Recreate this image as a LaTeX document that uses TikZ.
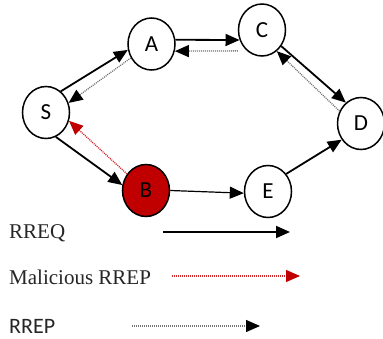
\documentclass[tikz,border=0pt]{standalone}
\usepackage{fontspec}
\setmainfont{Liberation Serif}
\newfontfamily\carlitofont{Carlito}
\usetikzlibrary{arrows.meta,shapes.geometric}
\definecolor{bred}{RGB}{192,0,0}
\definecolor{dotgray}{RGB}{115,115,115}
\definecolor{dotred}{RGB}{205,40,40}
\tikzset{
  peer/.style={draw=black, line width=1.5pt, ellipse, minimum width=47pt, minimum height=52pt, inner sep=0pt, font=\carlitofont\fontsize{23}{23}\selectfont},
  rreq/.style={draw=black, line width=1.8pt, -{Triangle[length=14pt,width=12pt]}},
  rreqthin/.style={draw=black, line width=1.2pt, -{Triangle[length=14pt,width=12pt]}},
  rrep/.style={draw=dotgray, line width=1.3pt, dash pattern=on 1pt off 1pt, -{Triangle[length=14pt,width=12pt,color=black]}},
  mrrep/.style={draw=dotred, line width=1.3pt, dash pattern=on 1pt off 1pt, -{Triangle[length=14pt,width=12pt,color=bred]}},
  legserif/.style={anchor=west, inner sep=0pt, font=\fontsize{21}{21}\selectfont, text=black!85},
  legsans/.style={anchor=west, inner sep=0pt, font=\carlitofont\fontsize{22}{22}\selectfont, text=black!85}
}
\begin{document}
\begin{tikzpicture}[x=1pt,y=-1pt]
\useasboundingbox[fill=white] (0,0) rectangle (383,339);
% nodes
\node[peer] (A) at (151.5,44) {A};
\node[peer] (C) at (262,30) {C};
\node[peer] (S) at (46,112.5) {S};
\node[peer] (D) at (361,123.5) {D};
\node[peer, fill=bred] (B) at (146,190.5) {B};
\node[peer] (E) at (268,191.5) {E};
% RREQ
\draw[rreq] (S.55) -- (A.194);
\draw[rreq] (A.10) -- (C.204);
\draw[rreq] (C.320) -- (D.126);
\draw[rreq] (S.292) -- (B.167);
\draw[rreqthin] (B.0) -- (E.184);
\draw[rreq] (E.44) -- (D.220);
% RREP
\draw[rrep] (A.214) -- (S.23);
\draw[rrep] (C.234 -| C.west) -- (A.343);
\draw[rrep] (D.150) -- (C.305);
% malicious RREP
\draw[mrrep] (B.139) -- (S.340);
% legend
\node[legserif] (l1) at (9,233) {RREQ};
\coordinate (l1a) at (163,232);
\coordinate (l1b) at (290,232);
\draw[rreq] (l1a) -- (l1b);
\node[legserif] (l2) at (9,277) {Malicious RREP};
\coordinate (l2a) at (172,276);
\coordinate (l2b) at (300,276);
\draw[mrrep] (l2a) -- (l2b);
\node[legsans] (l3) at (9,326) {RREP};
\coordinate (l3a) at (132,326);
\coordinate (l3b) at (260,326);
\draw[rrep] (l3a) -- (l3b);
\end{tikzpicture}
\end{document}
